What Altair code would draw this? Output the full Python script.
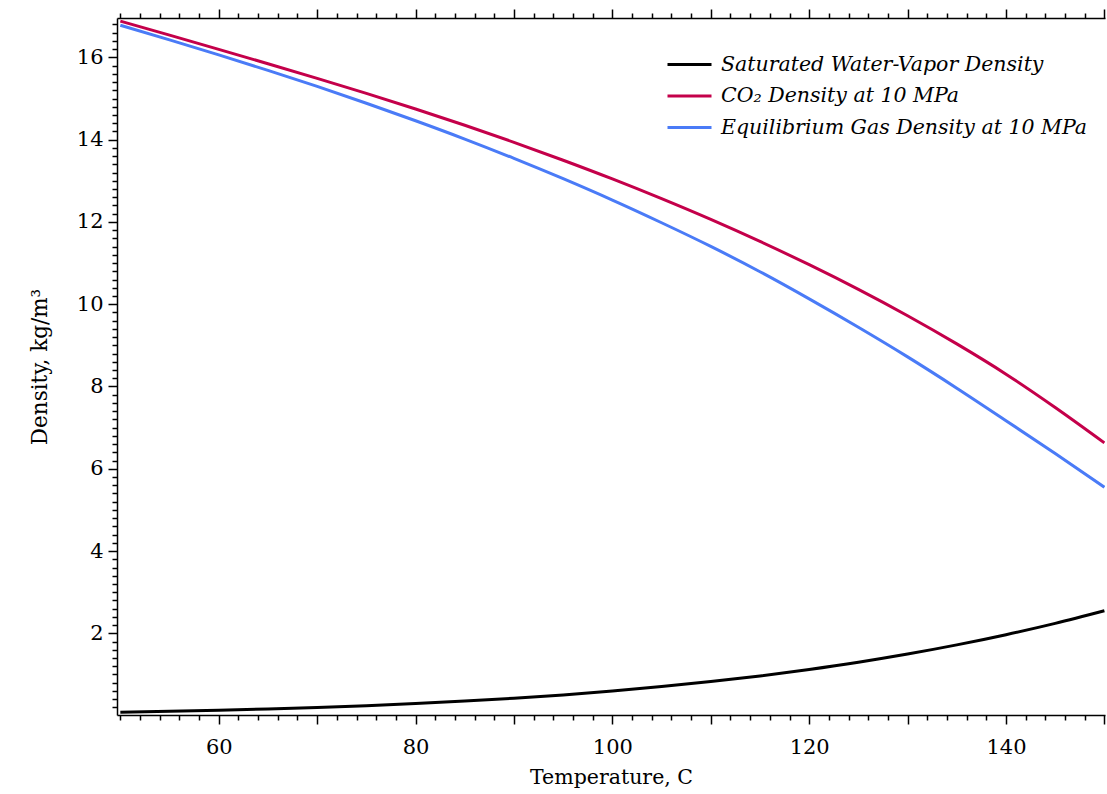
import altair as alt
import pandas as pd

temperature = [50, 55, 60, 65, 70, 75, 80, 85, 90, 95, 100, 105, 110, 115, 120, 125, 130, 135, 140, 145, 150]
water_vapor = [0.083, 0.104, 0.130, 0.161, 0.198, 0.242, 0.293, 0.354, 0.424, 0.504, 0.598,
               0.705, 0.827, 0.965, 1.122, 1.298, 1.497, 1.719, 1.967, 2.242, 2.548]
co2_density = [16.88, 16.54, 16.195, 15.845, 15.49, 15.125, 14.745, 14.35, 13.935, 13.50, 13.045,
               12.565, 12.06, 11.525, 10.96, 10.36, 9.72, 9.035, 8.30, 7.49, 6.63]
equil_density = [16.78, 16.425, 16.06, 15.685, 15.295, 14.885, 14.46, 14.015, 13.545, 13.05, 12.53,
                 11.98, 11.405, 10.79, 10.13, 9.44, 8.72, 7.96, 7.17, 6.37, 5.55]

series_names = ["Saturated Water-Vapor Density", "CO\u2082 Density at 10 MPa",
                "Equilibrium Gas Density at 10 MPa"]
series_colors = ["#000000", "#C4004A", "#4A7BF7"]

x_ticks = list(range(50, 151, 2))
y_ticks = [round(0.2 * i, 1) for i in range(1, 85)]

rows = []
for name, vals in zip(series_names, [water_vapor, co2_density, equil_density]):
    for t, v in zip(temperature, vals):
        rows.append({"T": t, "rho": v, "series": name})
df = pd.DataFrame(rows)

FONT = "DejaVu Serif"

x_scale = alt.Scale(domain=[49.66, 150.06], nice=False, zero=False)
y_scale = alt.Scale(domain=[0.015, 16.957], nice=False, zero=False)

x_major = "datum.value % 10 === 0 && datum.value > 50"
y_major = "abs(datum.value - 2*round(datum.value/2)) < 0.01"

x_bottom = alt.Axis(
    orient="bottom", values=x_ticks, title="Temperature, C",
    tickSize={"condition": {"test": x_major, "value": 9}, "value": 5},
    labelExpr="datum.value % 20 === 0 && datum.value > 50 && datum.value < 150 ? format(datum.value, '.0f') : ''",
    grid=False, domainColor="#000000", tickColor="#000000", domainWidth=1.5, tickWidth=1.5,
    labelFont=FONT, labelFontSize=21, labelColor="#000000", labelPadding=12,
    titleFont=FONT, titleFontSize=20.5, titleFontWeight="normal", titleColor="#000000",
    titlePadding=10, labelOverlap=False, labelFlush=False,
)
x_top = alt.Axis(
    orient="top", values=x_ticks, title=None, labels=False,
    tickSize={"condition": {"test": x_major, "value": 9}, "value": 5},
    grid=False, domainColor="#000000", tickColor="#000000", domainWidth=1.5, tickWidth=1.5,
)
y_left = alt.Axis(
    orient="left", values=y_ticks, title="Density, kg/m\u00b3",
    tickSize={"condition": {"test": y_major, "value": 9}, "value": 5},
    labelExpr=y_major + " ? format(datum.value, '.0f') : ''",
    grid=False, domainColor="#000000", tickColor="#000000", domainWidth=1.5, tickWidth=1.5,
    labelFont=FONT, labelFontSize=21, labelColor="#000000", labelPadding=5,
    titleFont=FONT, titleFontSize=21.5, titleFontWeight="normal", titleColor="#000000",
    titlePadding=25, labelOverlap=False, labelFlush=False,
)

color = alt.Color(
    "series:N",
    scale=alt.Scale(domain=series_names, range=series_colors),
    sort=series_names,
    legend=alt.Legend(
        title=None, orient="none", legendX=549, legendY=31.5,
        symbolType="stroke", symbolSize=1936, symbolStrokeWidth=3,
        labelFont=FONT, labelFontSize=20.5, labelFontStyle="italic", labelColor="#000000",
        labelLimit=0, labelOffset=8, clipHeight=30, rowPadding=1.5, padding=0,
    ),
)

lines = alt.Chart(df).mark_line(strokeWidth=3, interpolate="monotone", clip=True).encode(
    x=alt.X("T:Q", scale=x_scale, axis=x_bottom),
    y=alt.Y("rho:Q", scale=y_scale, axis=y_left),
    color=color,
    detail="series:N",
)

top_axis_layer = alt.Chart(df).mark_line(opacity=0).encode(
    x=alt.X("T:Q", scale=x_scale, axis=x_top),
    y=alt.Y("rho:Q", scale=y_scale, axis=y_left),
    detail="series:N",
)

chart = alt.layer(lines, top_axis_layer).resolve_axis(x="independent").properties(
    width=988, height=697,
    padding={"left": 117, "top": 18, "right": 2, "bottom": 79},
    autosize=alt.AutoSizeParams(type="none"),
    background="#FFFFFF",
).configure_view(stroke=None)

chart.save("out.html", embed_options={"renderer": "svg", "actions": False})
